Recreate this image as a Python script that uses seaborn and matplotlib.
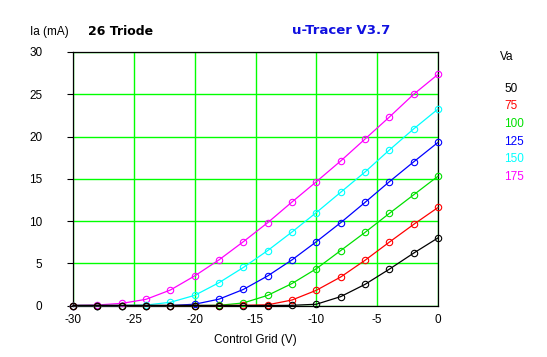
import numpy as np
import pandas as pd
import matplotlib
matplotlib.use("Agg")
import matplotlib.pyplot as plt
import seaborn as sns

# --- data (grid voltage in V, anode current in mA) ---
vg = [-30, -28, -26, -24, -22, -20, -18, -16, -14, -12, -10, -8, -6, -4, -2, 0]
ia_50 = [0, 0, 0, 0, 0, 0, 0, 0, 0, 0.02, 0.15, 1.05, 2.5, 4.3, 6.2, 8.0]
ia_75 = [0, 0, 0, 0, 0, 0, 0, 0.02, 0.08, 0.65, 1.8, 3.37, 5.35, 7.5, 9.6, 11.6]
ia_100 = [0, 0, 0, 0, 0, 0, 0.02, 0.3, 1.2, 2.6, 4.35, 6.5, 8.65, 10.9, 13.1, 15.3]
ia_125 = [0, 0, 0, 0, 0, 0.15, 0.75, 1.9, 3.5, 5.4, 7.55, 9.8, 12.2, 14.65, 17.0, 19.3]
ia_150 = [0, 0, 0, 0.05, 0.38, 1.2, 2.7, 4.5, 6.5, 8.7, 11.0, 13.4, 15.8, 18.4, 20.9, 23.25]
ia_175 = [0, 0.06, 0.25, 0.73, 1.83, 3.5, 5.4, 7.55, 9.8, 12.25, 14.65, 17.1, 19.7, 22.3, 25.0, 27.35]
va_labels = ["50", "75", "100", "125", "150", "175"]
va_colors = ["#000000", "#FF0000", "#00E000", "#0000FF", "#00FFFF", "#FF00FF"]
x_ticks = [-30, -25, -20, -15, -10, -5, 0]
y_ticks = [0, 5, 10, 15, 20, 25, 30]

series = [ia_50, ia_75, ia_100, ia_125, ia_150, ia_175]
df = pd.concat(
    [pd.DataFrame({"Vg": vg, "Ia": s, "Va": lab}) for lab, s in zip(va_labels, series)],
    ignore_index=True,
)

sns.set_style("ticks")
plt.rcParams["font.family"] = ["Liberation Sans", "DejaVu Sans"]
plt.rcParams["text.color"] = "black"
plt.rcParams["xtick.color"] = "black"
plt.rcParams["ytick.color"] = "black"
plt.rcParams["axes.labelcolor"] = "black"

fig = plt.figure(figsize=(5.47, 3.57), dpi=100)
ax = fig.add_axes([73 / 547, 1 - 305.5 / 357, 365 / 547, 253.5 / 357])

sns.lineplot(
    data=df, x="Vg", y="Ia", hue="Va",
    hue_order=va_labels[::-1],
    palette=dict(zip(va_labels, va_colors)),
    marker="o", markersize=4.6, markerfacecolor="none", markeredgewidth=0.8,
    linewidth=0.9, legend=False, ax=ax, zorder=3,
)
# open circles in the line colour
for ln in ax.lines:
    ln.set_markeredgecolor(ln.get_color())
    ln.set_clip_on(False)

ax.set_xlim(-30, 0)
ax.set_ylim(0, 30)
ax.set_xticks(x_ticks)
ax.set_yticks(y_ticks)
ax.set_xticklabels([str(t) for t in x_ticks], fontsize=8.5)
ax.set_yticklabels([str(t) for t in y_ticks], fontsize=8.5)
ax.tick_params(axis="x", length=0, pad=6, labelcolor="black")
ax.tick_params(axis="y", length=4, width=0.8, color="black", pad=18, labelcolor="black")
ax.grid(True, color="#00FF00", linewidth=1.0)
for sp in ax.spines.values():
    sp.set_visible(True)
    sp.set_color("black")
    sp.set_linewidth(0.9)
    sp.set_zorder(2.5)
ax.set_xlabel("Control Grid (V)", fontsize=8.5, labelpad=6)
ax.set_ylabel("")

fig.text(30 / 547, 1 - 31.5 / 357, "Ia (mA)", fontsize=8.5, va="center", ha="left")
fig.text(88 / 547, 1 - 31.5 / 357, "26 Triode", fontsize=9, fontweight="bold",
         family="DejaVu Sans", va="center", ha="left")
fig.text(292 / 547, 1 - 31 / 357, "u-Tracer V3.7", fontsize=9.5, fontweight="bold",
         family="DejaVu Sans", color="#1010E0", va="center", ha="left")

fig.text(500 / 547, 1 - 57 / 357, "Va", fontsize=8.5, va="center", ha="left")
for i, (lab, col) in enumerate(zip(va_labels, va_colors)):
    fig.text(504 / 547, 1 - (88.5 + i * 17.7) / 357, lab, fontsize=8.5,
             color=col, va="center", ha="left")

fig.savefig("out.png", dpi=100, facecolor="white")
